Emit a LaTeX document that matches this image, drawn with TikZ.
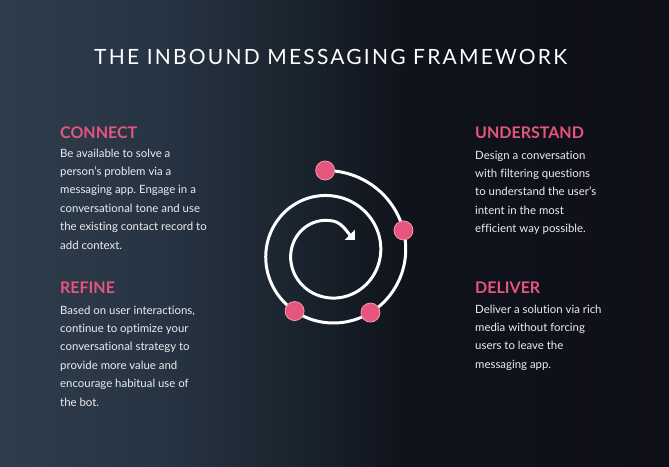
\documentclass[tikz,border=0pt]{standalone}
\usepackage{fontspec}
\setmainfont[Ligatures=NoCommon]{Lato}
\usepackage{tikz}
\usetikzlibrary{arrows.meta}
\frenchspacing

\definecolor{bgleft}{HTML}{2E3D4D}
\definecolor{bgmidA}{HTML}{263342}
\definecolor{bgmidB}{HTML}{1A242E}
\definecolor{bgdark}{HTML}{10131C}
\definecolor{bgright}{HTML}{0E0F19}
\definecolor{dotpink}{HTML}{E6557D}
\definecolor{dotrim}{HTML}{F29AB2}
\definecolor{bodygrey}{HTML}{EDEDF0}

\pgfdeclarehorizontalshading{bgshade}{100bp}{color(0bp)=(bgleft); color(25bp)=(bgleft);
  color(37.7bp)=(bgmidA); color(47.4bp)=(bgmidB); color(55bp)=(bgdark); color(75bp)=(bgright); color(100bp)=(bgright)}

\begin{document}
\begin{tikzpicture}[x=1pt, y=-1pt,
    title/.style={text=white, font=\fontsize{21}{25}\selectfont\addfontfeatures{LetterSpace=10.5}, inner sep=0pt, anchor=base},
    head/.style={text=dotpink, font=\fontsize{16}{20}\selectfont\bfseries, inner sep=0pt, anchor=base west},
    body/.style={text=bodygrey, font=\fontsize{11.4}{18.4}\selectfont, align=left, inner sep=0pt, anchor=base west},
    spiral/.style={white, line width=3pt},
    dot/.style={circle, fill=dotpink, draw=dotrim, line width=0.8pt, minimum size=19pt, inner sep=0pt}]
    \useasboundingbox (0,0) rectangle (669,466);
    % Background
    \shade[shading=bgshade] (0,0) rectangle (669,466);

    % Title
    \node[title] (title) at (330.6,64.3) {THE INBOUND MESSAGING FRAMEWORK};

    % Left column (body nodes sit on their last baseline)
    \node[head] (connect) at (60,138.3) {CONNECT};
    \node[body] (connect-text) at (60,249) {Be available to solve a\\person’s problem via a\\messaging app. Engage in a\\conversational tone and use\\the existing contact record to\\add context.};
    \node[head] (refine) at (60,293.3) {REFINE};
    \node[body] (refine-text) at (60,406) {Based on user interactions,\\continue to optimize your\\conversational strategy to\\provide more value and\\encourage habitual use of\\the bot.};

    % Right column
    \node[head] (understand) at (475,138.3) {UNDERSTAND};
    \node[body] (understand-text) at (475,232.7) {Design a conversation\\with filtering questions\\to understand the user’s\\intent in the most\\efficient way possible.};
    \node[head] (deliver) at (475,293.3) {DELIVER};
    \node[body] (deliver-text) at (475,368.3) {Deliver a solution via rich\\media without forcing\\users to leave the\\messaging app.};

    % Spiral
    \coordinate (spiral-tip) at (354.8,239.8);
    \draw[spiral, -{Triangle[angle=90:10pt]}] plot[domain=-3:720, samples=240, smooth]
        ({329.5+(82.4-\x/14.4)*sin(\x)}, {253-(82.4-\x/14.4)*cos(\x)})
        .. controls (341,220.6) and (346.5,231.5) .. (spiral-tip);

    % Stages on the spiral
    \foreach \a/\n in {-3/connect, 73/understand, 145.5/deliver, 211/refine}
        \node[dot] (dot-\n) at ({329.5+(82.4-\a/14.4)*sin(\a)}, {253-(82.4-\a/14.4)*cos(\a)}) {};
\end{tikzpicture}
\end{document}
